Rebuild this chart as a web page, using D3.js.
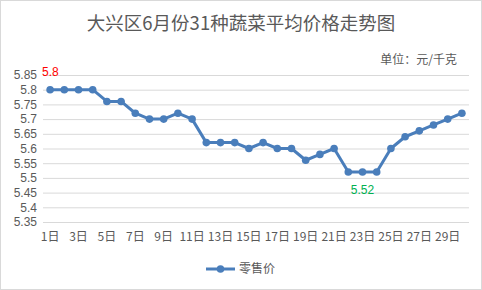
<!DOCTYPE html>
<html>
<head>
<meta charset="utf-8">
<script src="https://cdn.jsdelivr.net/npm/d3@7"></script>
<style>
  body { margin: 0; background: #fff; }
  text { font-family: "Noto Sans CJK SC", "Noto Sans", sans-serif; }
  .num text, text.num { font-family: "Liberation Sans", "DejaVu Sans", sans-serif; }
</style>
</head>
<body>
<div id="chart"></div>
<script>
// data
var days = d3.range(1, 31).map(function(d) { return d + "日"; });
var retail = [5.80, 5.80, 5.80, 5.80, 5.76, 5.76, 5.72, 5.70, 5.70, 5.72,
              5.70, 5.62, 5.62, 5.62, 5.60, 5.62, 5.60, 5.60, 5.56, 5.58,
              5.60, 5.52, 5.52, 5.52, 5.60, 5.64, 5.66, 5.68, 5.70, 5.72];
var yTicks = [5.35, 5.4, 5.45, 5.5, 5.55, 5.6, 5.65, 5.7, 5.75, 5.8, 5.85];
var seriesName = "零售价";
var title = "大兴区6月份31种蔬菜平均价格走势图";
var unit = "单位：元/千克";

var W = 482, H = 290;
var margin = { top: 75, right: 13, bottom: 68, left: 43 };
var width = W - margin.left - margin.right,
    height = H - margin.top - margin.bottom;

var svg = d3.select("#chart").append("svg")
    .attr("width", W)
    .attr("height", H);

// chart frame
svg.append("rect")
    .attr("x", 0.5).attr("y", 0.5)
    .attr("width", W - 1).attr("height", H - 1)
    .attr("fill", "#fff")
    .attr("stroke", "#d9d9d9");

svg.append("text")
    .attr("x", W / 2)
    .attr("y", 30)
    .attr("text-anchor", "middle")
    .style("font-size", "18.5px")
    .style("fill", "#595959")
    .text(title);

svg.append("text")
    .attr("x", 457)
    .attr("y", 64)
    .attr("text-anchor", "end")
    .style("font-size", "12px")
    .style("fill", "#595959")
    .text(unit);

var g = svg.append("g")
    .attr("transform", "translate(" + margin.left + "," + margin.top + ")");

var x = d3.scaleBand().domain(days).range([0, width]);
var y = d3.scaleLinear().domain([5.35, 5.85]).range([height, 0]);

// gridlines
g.append("g")
    .call(d3.axisLeft(y).tickValues(yTicks).tickSize(-width).tickFormat(""))
    .call(function(a) {
        a.select(".domain").remove();
        a.selectAll("line").attr("stroke", "#d9d9d9");
    });

// y labels
g.append("g")
    .attr("class", "num")
    .call(d3.axisLeft(y).tickValues(yTicks).tickSize(0).tickPadding(6)
        .tickFormat(function(d) { return String(+d.toFixed(2)); }))
    .call(function(a) {
        a.select(".domain").remove();
        a.selectAll("text").style("font-size", "12px").style("fill", "#595959")
            .attr("font-family", null);
    });

// x labels
g.append("g")
    .attr("transform", "translate(0," + height + ")")
    .call(d3.axisBottom(x).tickSize(0).tickPadding(10)
        .tickValues(days.filter(function(d, i) { return i % 2 === 0; })))
    .call(function(a) {
        a.select(".domain").remove();
        a.selectAll("text").style("font-size", "12px").style("fill", "#595959")
            .attr("font-family", null);
    });

var color = "#4a7ebb";
var cx = function(d, i) { return x(days[i]) + x.bandwidth() / 2; };

g.append("path")
    .datum(retail)
    .attr("fill", "none")
    .attr("stroke", color)
    .attr("stroke-width", 3)
    .attr("stroke-linejoin", "round")
    .attr("d", d3.line().x(cx).y(function(d) { return y(d); }));

g.selectAll(".pt")
    .data(retail)
    .enter().append("circle")
    .attr("class", "pt")
    .attr("cx", cx)
    .attr("cy", function(d) { return y(d); })
    .attr("r", 3.8)
    .attr("fill", color);

// data labels: first and minimum
g.append("text")
    .attr("class", "num")
    .attr("x", cx(retail[0], 0) - 8)
    .attr("y", y(retail[0]) - 14)
    .style("font-size", "12px")
    .style("fill", "#ff0000")
    .text(String(retail[0]));

var minIdx = retail.indexOf(d3.min(retail)) + 1;
g.append("text")
    .attr("class", "num")
    .attr("x", cx(retail[minIdx], minIdx))
    .attr("y", y(retail[minIdx]) + 22)
    .attr("text-anchor", "middle")
    .style("font-size", "12px")
    .style("fill", "#00b050")
    .text(String(retail[minIdx]));

// legend
var lg = svg.append("g").attr("transform", "translate(206,269)");
lg.append("line").attr("x1", 0).attr("x2", 29)
    .attr("stroke", color).attr("stroke-width", 3);
lg.append("circle").attr("cx", 14.5).attr("r", 3.8).attr("fill", color);
lg.append("text").attr("x", 33).attr("y", 4)
    .style("font-size", "12px").style("fill", "#595959")
    .text(seriesName);
</script>
</body>
</html>
